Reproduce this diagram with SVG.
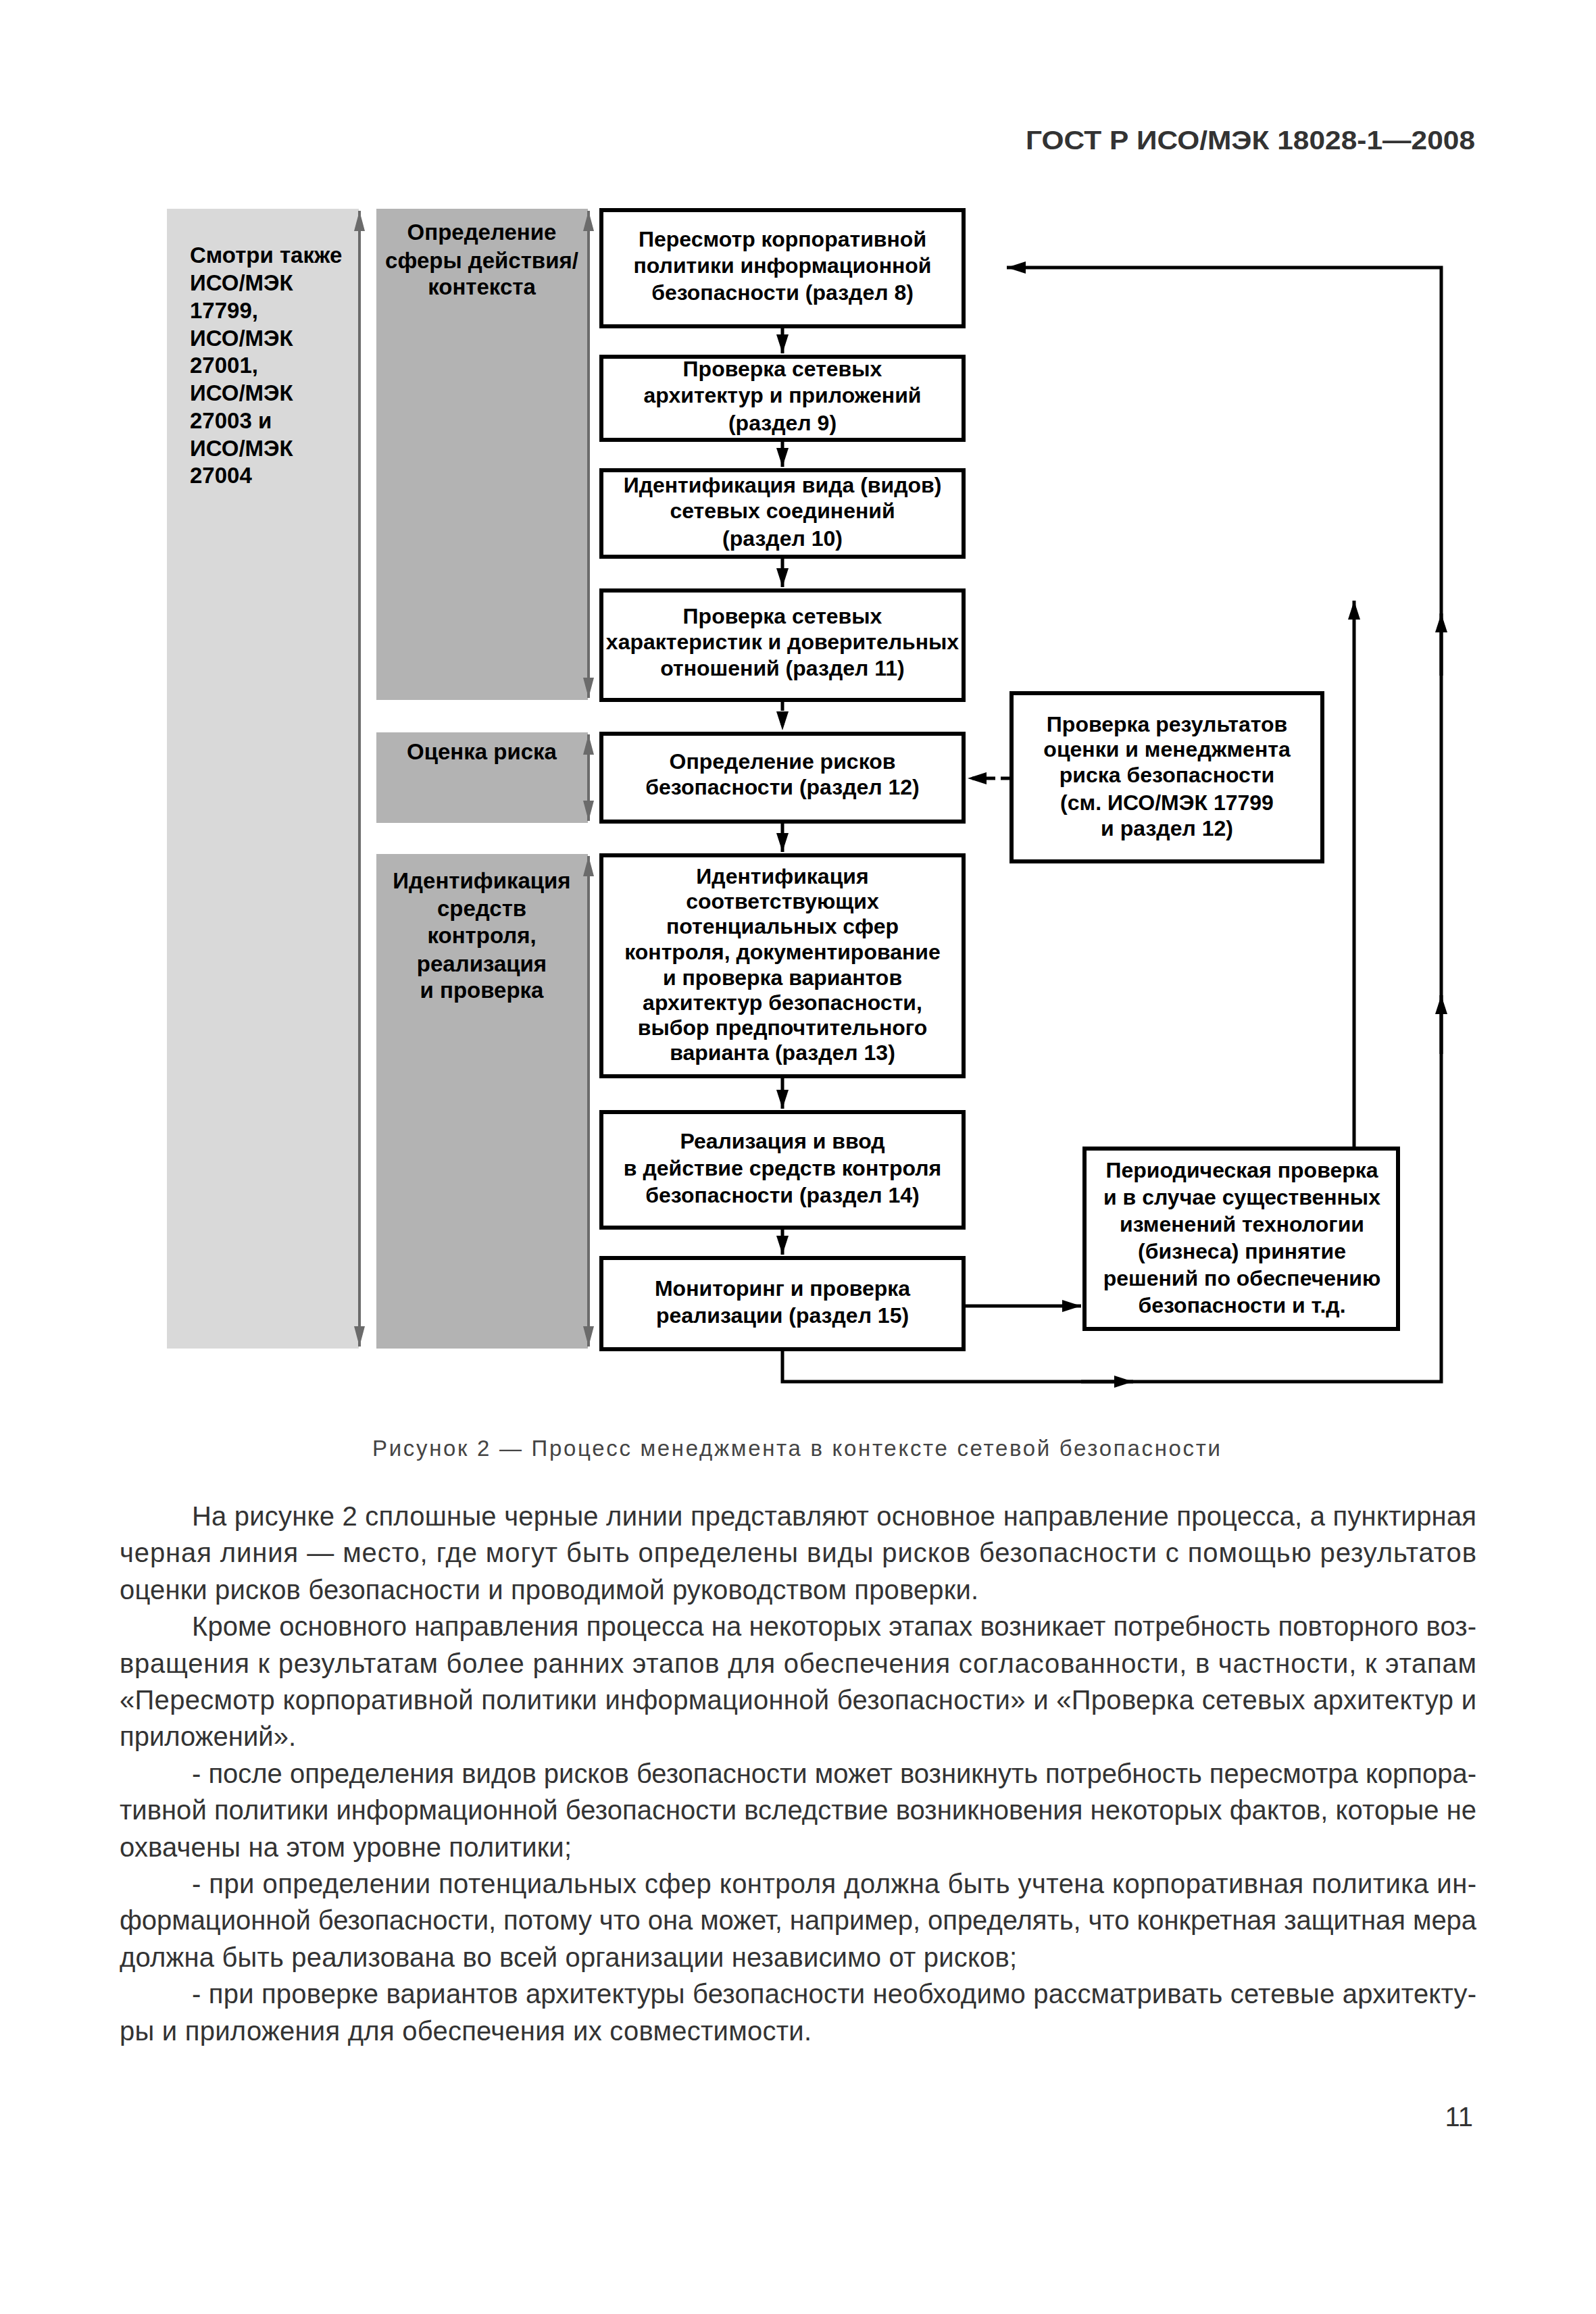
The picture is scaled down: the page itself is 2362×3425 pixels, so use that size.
<svg xmlns="http://www.w3.org/2000/svg" width="2362" height="3425" viewBox="0 0 2362 3425">
<style>
.bg{fill:#ffffff}
.pl{fill:#d9d9d9}
.pm{fill:#b3b3b3}
.ga{stroke:#6b6b6b;stroke-width:4;fill:none}
.box{fill:#ffffff;stroke:#000000;stroke-width:6}
.t{font-family:"Liberation Sans",Arial,sans-serif;font-weight:bold;font-size:32px;fill:#000000;text-anchor:middle}
.pt{font-size:33px}
.tl{text-anchor:start}
.c{stroke:#000000;stroke-width:5;fill:none}
.d{stroke-dasharray:13 8}
.hdr{font-family:"Liberation Sans",Arial,sans-serif;font-weight:bold;font-size:38px;fill:#333333;text-anchor:end}
.cap{font-family:"Liberation Sans",Arial,sans-serif;font-size:33px;fill:#444444}
.p{font-family:"Liberation Sans",Arial,sans-serif;font-size:40px;fill:#333333}
</style>
<defs>
<marker id="ah" markerUnits="userSpaceOnUse" markerWidth="30" markerHeight="20" refX="28" refY="9" orient="auto">
<path d="M0,0 L28,9 L0,18 z" fill="#000000"/>
</marker>
<marker id="gh" markerUnits="userSpaceOnUse" markerWidth="32" markerHeight="18" refX="30" refY="8" orient="auto-start-reverse">
<path d="M0,0 L30,8 L0,16 z" fill="#6b6b6b"/>
</marker>
</defs>
<rect class="bg" x="0" y="0" width="2362" height="3425"/>

<text class="hdr" x="2183" y="221" textLength="665" lengthAdjust="spacingAndGlyphs">ГОСТ Р ИСО/МЭК 18028-1—2008</text>

<g id="panel-see-also">
<rect class="pl" x="247" y="309" width="284" height="1687"/>
<path class="ga" d="M532,312 L532,1993" marker-start="url(#gh)" marker-end="url(#gh)"/>
<text class="t pt tl" x="281" y="389">Смотри также</text>
<text class="t pt tl" x="281" y="430">ИСО/МЭК</text>
<text class="t pt tl" x="281" y="471">17799,</text>
<text class="t pt tl" x="281" y="512">ИСО/МЭК</text>
<text class="t pt tl" x="281" y="552">27001,</text>
<text class="t pt tl" x="281" y="593">ИСО/МЭК</text>
<text class="t pt tl" x="281" y="634">27003 и</text>
<text class="t pt tl" x="281" y="675">ИСО/МЭК</text>
<text class="t pt tl" x="281" y="715">27004</text>
</g>

<g id="panel-scope">
<rect class="pm" x="557" y="309" width="313" height="727"/>
<path class="ga" d="M871,312 L871,1033" marker-start="url(#gh)" marker-end="url(#gh)"/>
<text class="t pt" x="713" y="355">Определение</text>
<text class="t pt" x="713" y="397">сферы действия/</text>
<text class="t pt" x="713" y="436">контекста</text>
</g>

<g id="panel-risk">
<rect class="pm" x="557" y="1084" width="313" height="134"/>
<path class="ga" d="M871,1087 L871,1215" marker-start="url(#gh)" marker-end="url(#gh)"/>
<text class="t pt" x="713" y="1124">Оценка риска</text>
</g>

<g id="panel-controls">
<rect class="pm" x="557" y="1264" width="313" height="732"/>
<path class="ga" d="M871,1267 L871,1993" marker-start="url(#gh)" marker-end="url(#gh)"/>
<text class="t pt" x="713" y="1315">Идентификация</text>
<text class="t pt" x="713" y="1356">средств</text>
<text class="t pt" x="713" y="1396">контроля,</text>
<text class="t pt" x="713" y="1438">реализация</text>
<text class="t pt" x="713" y="1477">и проверка</text>
</g>

<g id="connectors">
<path class="c" d="M1158,486 L1158,523" marker-end="url(#ah)"/>
<path class="c" d="M1158,654 L1158,691" marker-end="url(#ah)"/>
<path class="c" d="M1158,827 L1158,869" marker-end="url(#ah)"/>
<path class="c d" d="M1158,1039 L1158,1081" marker-end="url(#ah)"/>
<path class="c" d="M1158,1219 L1158,1261" marker-end="url(#ah)"/>
<path class="c" d="M1158,1596 L1158,1641" marker-end="url(#ah)"/>
<path class="c" d="M1158,1820 L1158,1857" marker-end="url(#ah)"/>
<path class="c d" d="M1494,1152 L1432,1152" marker-end="url(#ah)"/>
<path class="c" d="M1429,1933 L1600,1933" marker-end="url(#ah)"/>
<path class="c" d="M1158,2000 L1158,2045 L2133,2045 L2133,396 L1490,396" marker-end="url(#ah)"/>
<path class="c" d="M1600,2045 L1677,2045" marker-end="url(#ah)"/>
<path class="c" d="M2133,1000 L2133,908" marker-end="url(#ah)"/>
<path class="c" d="M2133,1560 L2133,1473" marker-end="url(#ah)"/>
<path class="c" d="M2004,1697 L2004,889" marker-end="url(#ah)"/>
</g>

<g id="box-policy">
<rect class="box" x="890" y="311" width="536" height="172"/>
<text class="t" x="1158" y="365">Пересмотр корпоративной</text>
<text class="t" x="1158" y="404">политики информационной</text>
<text class="t" x="1158" y="444">безопасности (раздел 8)</text>
</g>
<g id="box-arch">
<rect class="box" x="890" y="528" width="536" height="123"/>
<text class="t" x="1158" y="557">Проверка сетевых</text>
<text class="t" x="1158" y="596">архитектур и приложений</text>
<text class="t" x="1158" y="637">(раздел 9)</text>
</g>
<g id="box-conn">
<rect class="box" x="890" y="696" width="536" height="128"/>
<text class="t" x="1158" y="729">Идентификация вида (видов)</text>
<text class="t" x="1158" y="767">сетевых соединений</text>
<text class="t" x="1158" y="808">(раздел 10)</text>
</g>
<g id="box-trust">
<rect class="box" x="890" y="874" width="536" height="162"/>
<text class="t" x="1158" y="923">Проверка сетевых</text>
<text class="t" x="1158" y="961">характеристик и доверительных</text>
<text class="t" x="1158" y="1000">отношений (раздел 11)</text>
</g>
<g id="box-risks">
<rect class="box" x="890" y="1086" width="536" height="130"/>
<text class="t" x="1158" y="1138">Определение рисков</text>
<text class="t" x="1158" y="1176">безопасности (раздел 12)</text>
</g>
<g id="box-review">
<rect class="box" x="1497" y="1026" width="460" height="249"/>
<text class="t" x="1727" y="1083">Проверка результатов</text>
<text class="t" x="1727" y="1120">оценки и менеджмента</text>
<text class="t" x="1727" y="1158">риска безопасности</text>
<text class="t" x="1727" y="1199">(см. ИСО/МЭК 17799</text>
<text class="t" x="1727" y="1237">и раздел 12)</text>
</g>
<g id="box-controls">
<rect class="box" x="890" y="1266" width="536" height="327"/>
<text class="t" x="1158" y="1308">Идентификация</text>
<text class="t" x="1158" y="1345">соответствующих</text>
<text class="t" x="1158" y="1382">потенциальных сфер</text>
<text class="t" x="1158" y="1420">контроля, документирование</text>
<text class="t" x="1158" y="1458">и проверка вариантов</text>
<text class="t" x="1158" y="1495">архитектур безопасности,</text>
<text class="t" x="1158" y="1532">выбор предпочтительного</text>
<text class="t" x="1158" y="1569">варианта (раздел 13)</text>
</g>
<g id="box-implement">
<rect class="box" x="890" y="1646" width="536" height="171"/>
<text class="t" x="1158" y="1700">Реализация и ввод</text>
<text class="t" x="1158" y="1740">в действие средств контроля</text>
<text class="t" x="1158" y="1780">безопасности (раздел 14)</text>
</g>
<g id="box-monitor">
<rect class="box" x="890" y="1862" width="536" height="135"/>
<text class="t" x="1158" y="1918">Мониторинг и проверка</text>
<text class="t" x="1158" y="1958">реализации (раздел 15)</text>
</g>
<g id="box-periodic">
<rect class="box" x="1605" y="1700" width="464" height="267"/>
<text class="t" x="1838" y="1743">Периодическая проверка</text>
<text class="t" x="1838" y="1783">и в случае существенных</text>
<text class="t" x="1838" y="1823">изменений технологии</text>
<text class="t" x="1838" y="1863">(бизнеса) принятие</text>
<text class="t" x="1838" y="1903">решений по обеспечению</text>
<text class="t" x="1838" y="1943">безопасности и т.д.</text>
</g>

<text class="cap" x="551" y="2155" textLength="1255" lengthAdjust="spacing">Рисунок 2 — Процесс менеджмента в контексте сетевой безопасности</text>

<g id="body-text">
<text class="p" x="284" y="2258" textLength="1901" lengthAdjust="spacing">На рисунке 2 сплошные черные линии представляют основное направление процесса, а пунктирная</text>
<text class="p" x="177" y="2312" textLength="2008" lengthAdjust="spacing">черная линия — место, где могут быть определены виды рисков безопасности с помощью результатов</text>
<text class="p" x="177" y="2367" textLength="1271" lengthAdjust="spacing">оценки рисков безопасности и проводимой руководством проверки.</text>
<text class="p" x="284" y="2421" textLength="1901" lengthAdjust="spacing">Кроме основного направления процесса на некоторых этапах возникает потребность повторного воз-</text>
<text class="p" x="177" y="2476" textLength="2008" lengthAdjust="spacing">вращения к результатам более ранних этапов для обеспечения согласованности, в частности, к этапам</text>
<text class="p" x="177" y="2530" textLength="2008" lengthAdjust="spacing">«Пересмотр корпоративной политики информационной безопасности» и «Проверка сетевых архитектур и</text>
<text class="p" x="177" y="2584" textLength="261" lengthAdjust="spacing">приложений».</text>
<text class="p" x="284" y="2639" textLength="1901" lengthAdjust="spacing">- после определения видов рисков безопасности может возникнуть потребность пересмотра корпора-</text>
<text class="p" x="177" y="2693" textLength="2008" lengthAdjust="spacing">тивной политики информационной безопасности вследствие возникновения некоторых фактов, которые не</text>
<text class="p" x="177" y="2748" textLength="669" lengthAdjust="spacing">охвачены на этом уровне политики;</text>
<text class="p" x="284" y="2802" textLength="1901" lengthAdjust="spacing">- при определении потенциальных сфер контроля должна быть учтена корпоративная политика ин-</text>
<text class="p" x="177" y="2856" textLength="2008" lengthAdjust="spacing">формационной безопасности, потому что она может, например, определять, что конкретная защитная мера</text>
<text class="p" x="177" y="2911" textLength="1328" lengthAdjust="spacing">должна быть реализована во всей организации независимо от рисков;</text>
<text class="p" x="284" y="2965" textLength="1901" lengthAdjust="spacing">- при проверке вариантов архитектуры безопасности необходимо рассматривать сетевые архитекту-</text>
<text class="p" x="177" y="3020" textLength="1024" lengthAdjust="spacing">ры и приложения для обеспечения их совместимости.</text>
<text class="p" x="2180" y="3147" text-anchor="end">11</text>
</g>
</svg>
